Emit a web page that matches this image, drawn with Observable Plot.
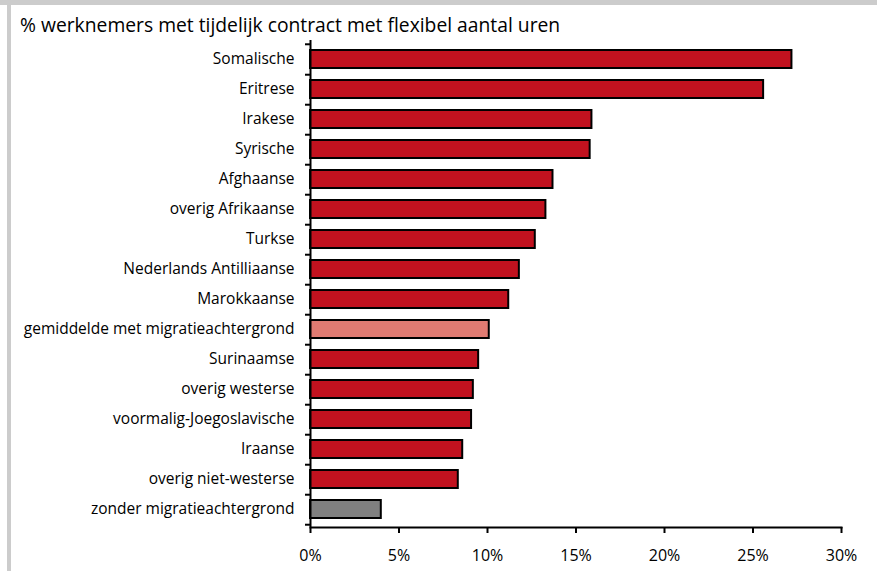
<!DOCTYPE html>
<html>
<head>
<meta charset="utf-8">
<script src="https://cdn.jsdelivr.net/npm/d3@7"></script>
<script src="https://cdn.jsdelivr.net/npm/@observablehq/plot@0.6"></script>
<style>
  html, body { margin: 0; padding: 0; background: #fff; }
  #wrap { position: relative; width: 877px; height: 571px; overflow: hidden; background: #fff; font-family: "Open Sans", sans-serif; }
  #topband { position: absolute; left: 0; top: 0; width: 877px; height: 5px; background: #cccccc; }
  #leftband { position: absolute; left: 7px; top: 0; width: 4px; height: 571px; background: #cccccc; }
  #title { position: absolute; left: 20px; top: 13px; font-size: 19.3px; line-height: 24px; color: #000; white-space: nowrap; }
  #chart { position: absolute; left: 0; top: 35px; }
</style>
</head>
<body>
<div id="wrap">
  <div id="topband"></div>
  <div id="leftband"></div>
  <div id="title">% werknemers met tijdelijk contract met flexibel aantal uren</div>
  <div id="chart"></div>
</div>
<script>
const categories = [
  "Somalische", "Eritrese", "Irakese", "Syrische", "Afghaanse",
  "overig Afrikaanse", "Turkse", "Nederlands Antilliaanse", "Marokkaanse",
  "gemiddelde met migratieachtergrond", "Surinaamse", "overig westerse",
  "voormalig-Joegoslavische", "Iraanse", "overig niet-westerse",
  "zonder migratieachtergrond"
];
const values = [27.2, 25.6, 15.9, 15.8, 13.7, 13.3, 12.7, 11.8, 11.2, 10.1, 9.5, 9.2, 9.1, 8.6, 8.35, 4.0];
const groups = ["migr", "migr", "migr", "migr", "migr", "migr", "migr", "migr", "migr",
  "gem", "migr", "migr", "migr", "migr", "migr", "zonder"];
const xTicks = [0, 5, 10, 15, 20, 25, 30];

const data = categories.map((c, i) => ({ cat: c, value: values[i], group: groups[i] }));

const width = 877, height = 536;
const marginTop = 5, marginBottom = 44, marginLeft = 310, marginRight = 36;
const step = (height - marginTop - marginBottom) / categories.length;

const chart = Plot.plot({
  width, height, marginTop, marginBottom, marginLeft, marginRight,
  style: { fontFamily: "Open Sans, sans-serif", fontSize: "15.5px", color: "#000", background: "transparent", overflow: "visible" },
  x: { domain: [0, 30] },
  y: { domain: categories, paddingInner: 0.4, paddingOuter: 0.2 },
  color: { domain: ["migr", "gem", "zonder"], range: ["#c1121f", "#e07b72", "#808080"] },
  marks: [
    Plot.barX(data, { x: "value", y: "cat", fill: "group", stroke: "#000", strokeWidth: 2 }),
    Plot.ruleX([0], { stroke: "#000", strokeWidth: 2 }),
    Plot.frame({ anchor: "bottom", stroke: "#000", strokeWidth: 2 }),
    Plot.axisY({ tickSize: 0, tickPadding: 16, label: null, fontSize: 15.5 }),
    Plot.axisY({ tickSize: 5, text: null, label: null, dy: step / 2, strokeWidth: 2 }),
    Plot.axisY({ ticks: [categories[0]], tickSize: 5, text: null, label: null, dy: -step / 2, strokeWidth: 2 }),
    Plot.axisX({ ticks: xTicks, tickFormat: d => d + "%", tickSize: 6, tickPadding: 16, label: null, fontSize: 16, strokeWidth: 2 })
  ]
});
document.getElementById("chart").appendChild(chart);
</script>
</body>
</html>
